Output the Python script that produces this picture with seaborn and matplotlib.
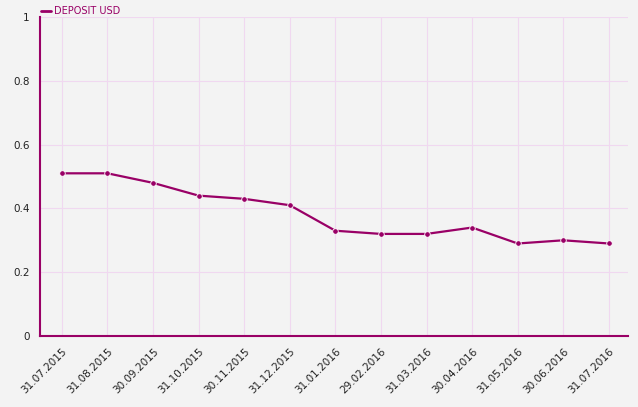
import matplotlib
matplotlib.use("Agg")
import matplotlib.pyplot as plt
from matplotlib.lines import Line2D
import seaborn as sns
import pandas as pd

dates = ["31.07.2015", "31.08.2015", "30.09.2015", "31.10.2015", "30.11.2015", "31.12.2015",
         "31.01.2016", "29.02.2016", "31.03.2016", "30.04.2016", "31.05.2016", "30.06.2016", "31.07.2016"]
deposit = [0.51, 0.51, 0.48, 0.44, 0.43, 0.41, 0.33, 0.32, 0.32, 0.34, 0.29, 0.30, 0.29]

df = pd.DataFrame({"x": range(len(dates)), "v": deposit})

sns.set_style("white")
plt.rcParams['font.family'] = ['DejaVu Sans']
color = "#990066"

fig = plt.figure(figsize=(6.38, 4.07), dpi=100)
fig.patch.set_facecolor("#f3f3f3")
ax = fig.add_axes([40/638, 71/407, 588/638, 319/407])
ax.set_facecolor("#f3f3f3")

sns.lineplot(data=df, x="x", y="v", ax=ax, color=color, lw=1.6, marker="o",
             markersize=4, markeredgecolor="white", markeredgewidth=0.6, legend=False)

ax.set_xlim(-0.48, 12.42)
ax.set_ylim(0, 1)
ax.set_xticks(range(len(dates)))
ax.set_xticklabels(dates, rotation=45, ha="right", rotation_mode="anchor", fontsize=7.5)
ax.set_yticks([0, 0.2, 0.4, 0.6, 0.8, 1])
ax.set_yticklabels(["0", "0.2", "0.4", "0.6", "0.8", "1"], fontsize=7.5)
ax.grid(True, color="#f0d8f0", lw=0.8)
ax.set_xlabel("")
ax.set_ylabel("")
for s in ["top", "right"]:
    ax.spines[s].set_visible(False)
for s in ["left", "bottom"]:
    ax.spines[s].set_color(color)
    ax.spines[s].set_linewidth(1.5)
ax.tick_params(axis="both", length=4, color=color, direction="out", labelcolor="#222222")

handle = Line2D([], [], color=color, lw=2)
leg = ax.legend([handle], ["DEPOSIT USD"], loc="lower left", bbox_to_anchor=(-0.005, 0.99),
                frameon=False, fontsize=7, handlelength=1.0, handletextpad=0.3, borderaxespad=0)
for t in leg.get_texts():
    t.set_color(color)

fig.savefig("out.png", dpi=100, facecolor=fig.get_facecolor())
